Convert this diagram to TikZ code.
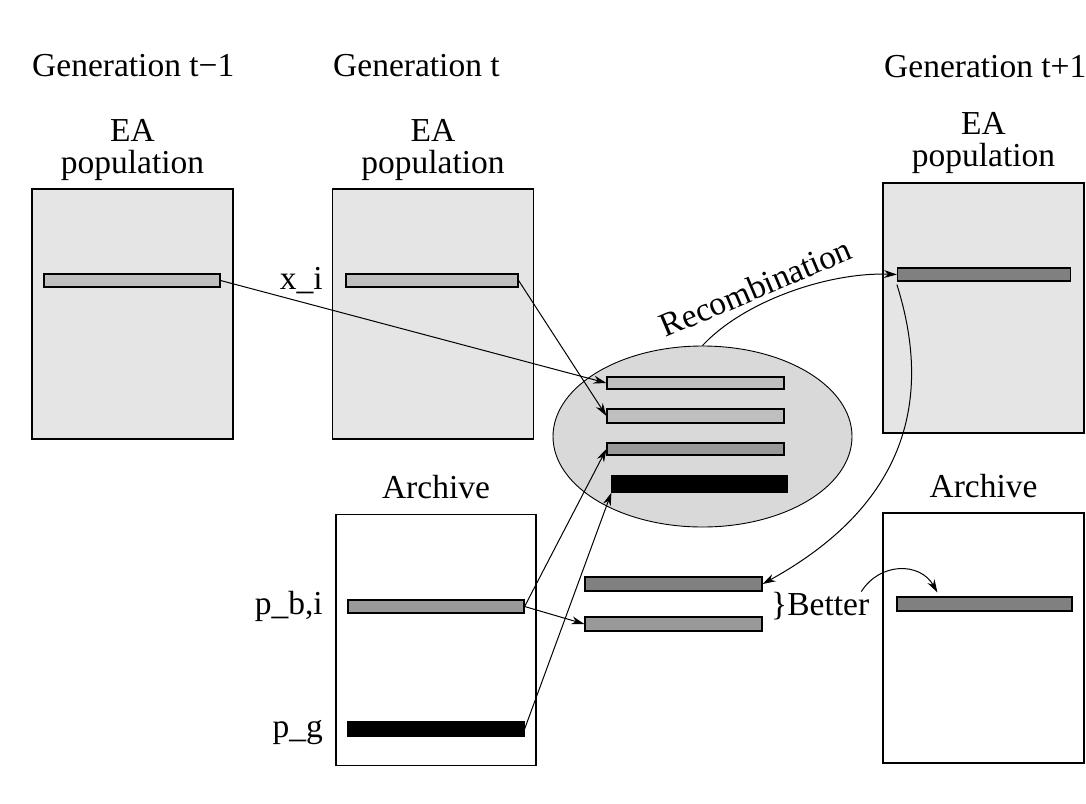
\documentclass[tikz,border=0pt]{standalone}
\usepackage{fontspec}
\setmainfont{Liberation Serif}
\usetikzlibrary{arrows.meta,positioning,shapes.geometric}
\begin{document}
\begin{tikzpicture}[x=1pt,y=-1pt,
    box/.style={draw, line width=1.4pt, inner sep=0pt, minimum width=201pt, minimum height=250pt},
    pop/.style={box, fill=black!10},
    bar/.style={draw, line width=1.2pt, inner sep=0pt, minimum height=13pt},
    lbl/.style={inner sep=0pt, font=\fontsize{33.5}{32}\selectfont},
    arr/.style={line width=1pt, -{Stealth[length=13pt,width=8pt]}}]
    \useasboundingbox (0,0) rectangle (1086,803);

    % generations
    \node[lbl, anchor=base west] (genA) at (32,76) {Generation t−1};
    \node[lbl, anchor=base west] (genB) at (333,76) {Generation t};
    \node[lbl, anchor=base west] (genC) at (884,77) {Generation t+1};

    % populations and archives
    \node[pop] (popA) at (132.5,314) {};
    \node[pop] (popB) at (433,314) {};
    \node[pop] (popC) at (983.5,308) {};
    \node[box, minimum width=200pt, minimum height=251pt] (archB) at (436,640) {};
    \node[box] (archC) at (983.5,638) {};
    \node[lbl, align=center, above=7pt of popA] (eaA) {EA\\population};
    \node[lbl, align=center, above=7pt of popB] (eaB) {EA\\population};
    \node[lbl, align=center, above=8pt of popC] (eaC) {EA\\population};
    \node[lbl, above=15pt of archB] (arB) {Archive};
    \node[lbl, above=14pt of archC] (arC) {Archive};

    \node[bar, fill=black!25, minimum width=176pt] (barA) at (132,280.5) {};
    \node[bar, fill=black!25, minimum width=172pt] (barB) at (432,280.5) {};
    \node[bar, fill=black!50, minimum width=173pt] (barC) at (984,274.5) {};
    \node[bar, fill=black!40, minimum width=176pt] (pbi) at (436,606.5) {};
    \node[bar, fill=black, minimum width=176pt, minimum height=14pt] (pg) at (436,729) {};
    \node[bar, fill=black!50, minimum width=175pt, minimum height=14pt] (sC) at (984.5,604) {};

    \node[lbl, anchor=base east] (xi) at (323,289) {x\_i};
    \node[lbl, anchor=base east] (pbl) at (323,614) {p\_b,i};
    \node[lbl, anchor=base east] (pgl) at (323,737) {p\_g};

    % recombination pool
    \node[draw, ellipse, fill=black!15, line width=0.9pt, inner sep=0pt,
          minimum width=299pt, minimum height=181pt] (ell) at (702.5,436.5) {};
    \node[bar, fill=black!25, minimum width=177pt, minimum height=12pt] (r1) at (695.5,383) {};
    \node[bar, fill=black!25, minimum width=177pt, minimum height=14pt] (r2) at (695.5,416) {};
    \node[bar, fill=black!40, minimum width=177pt, minimum height=12pt] (r3) at (695.5,449) {};
    \node[bar, fill=black, minimum width=175pt, minimum height=16pt] (r4) at (699.5,484) {};

    \node[bar, fill=black!50, minimum width=177pt, minimum height=14pt] (s1) at (673.5,584) {};
    \node[bar, fill=black!40, minimum width=177pt, minimum height=14pt] (s2) at (673.5,624) {};
    \node[lbl, anchor=base west] (better) at (771,615) {\}Better};
    \node[lbl, anchor=base, rotate=23] (rec) at (760,298) {Recombination};

    \draw[arr] (barA.east) -- (r1.west);
    \draw[arr] (barB.east) -- (r2.west);
    \draw[arr] (pbi.east) -- (r3.west);
    \draw[arr] (pg.east) -- (r4.south west);
    \draw[arr] (pbi.east) -- (s2.west);
    \draw[arr] (ell.north) .. controls (745,300) and (830,272) .. (barC.west);
    \draw[arr] ([yshift=-3pt]barC.south west) .. controls (930,390) and (915,500) .. (s1.east);
    \draw[arr] ([xshift=-8pt]better.north east) .. controls (880,562) and (920,562) .. ([xshift=41pt,yshift=4pt]sC.north west);
\end{tikzpicture}
\end{document}
